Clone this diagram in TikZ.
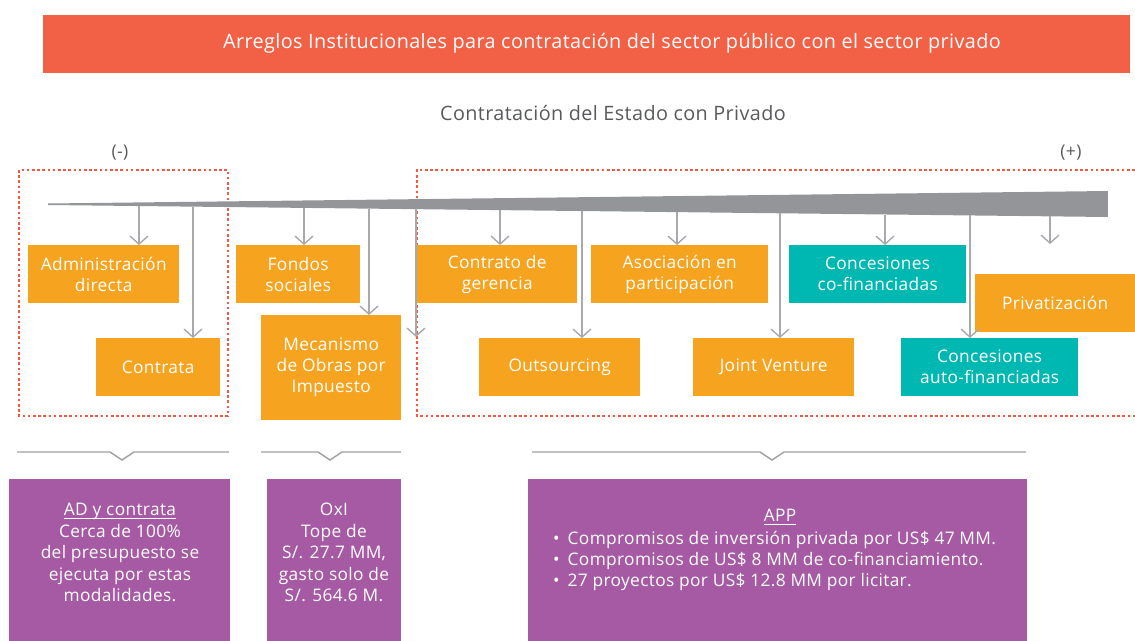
\documentclass[tikz,border=0pt]{standalone}
\usepackage{fontspec}
\setmainfont{Open Sans}[LetterSpace=2]
\usetikzlibrary{arrows.meta}
\definecolor{titlered}{HTML}{F26045}
\definecolor{dotred}{HTML}{F15A40}
\definecolor{boxorange}{HTML}{F6A31F}
\definecolor{boxteal}{HTML}{00B8B2}
\definecolor{boxpurple}{HTML}{A55AA3}
\definecolor{wedgegray}{HTML}{939598}
\definecolor{wedgelight}{HTML}{E2E3E4}
\definecolor{arrgray}{HTML}{A7A9AC}
\definecolor{txtgray}{HTML}{58595B}
\definecolor{brgray}{HTML}{9D9FA2}
\pgfdeclarehorizontalshading{wedgeshade}{100bp}{color(0bp)=(wedgelight); color(22bp)=(wedgegray); color(100bp)=(wedgegray)}
\newcommand\myul[1]{\setbox0\hbox{#1}\rlap{\rule[-3.5pt]{\wd0}{0.9pt}}\box0}
\begin{document}
\begin{tikzpicture}[x=1pt,y=-1pt,
  obox/.style={fill=boxorange, text=white, align=center, inner sep=0pt, anchor=north west,
    font=\fontsize{17.3}{21}\selectfont},
  tbox/.style={obox, fill=boxteal},
  pbox/.style={fill=boxpurple, inner sep=0pt, anchor=north west},
  ptext/.style={text=white, align=center, inner sep=0pt, font=\fontsize{17.3}{21.5}\selectfont},
  arr/.style={draw=arrgray, line width=1.4pt, -{Straight Barb[length=8pt,width=18pt,line width=1.4pt]}},
  dotbox/.style={draw=dotred, line width=2.8pt, dash pattern=on 2.6pt off 2.6pt},
  bracket/.style={draw=brgray, line width=1.4pt},
  gtext/.style={text=txtgray, inner sep=0pt}
]
\useasboundingbox (0,0) rectangle (1135,640);

% title
\node[fill=titlered, minimum width=1087pt, minimum height=58pt, inner sep=0pt,
  anchor=north west] (title) at (43,15) {};
\node[text=white, inner sep=0pt, font=\fontsize{19.8}{22}\selectfont] (titletext) at (612,43)
  {Arreglos Institucionales para contratación del sector público con el sector privado};

\node[gtext, font=\fontsize{19.8}{22}\selectfont] (sub) at (613,113) {Contratación del Estado con Privado};
\node[gtext, font=\fontsize{17.5}{20}\selectfont] (minus) at (120,153) {(-)};
\node[gtext, font=\fontsize{17.5}{20}\selectfont] (plus) at (1071,153) {(+)};

% dotted frames
\draw[dotbox] (19,170) rectangle (228,416);
\draw[dotbox] (1140,170) -- (417,170) -- (417,416) -- (1140,416);

% wedge
\shade[shading=wedgeshade] (48,203.5) -- (1108,191) -- (1108,217) -- (48,205) -- cycle;

% boxes
\node[obox, minimum width=151pt, minimum height=58pt] (adm) at (28,245) {Administración\\directa};
\node[obox, minimum width=124pt, minimum height=58pt] (con) at (96,338) {Contrata};
\node[obox, minimum width=124pt, minimum height=58pt] (fon) at (236,245) {Fondos\\sociales};
\node[obox, minimum width=140pt, minimum height=105pt] (oxi) at (261,315) {Mecanismo\\de Obras por\\Impuesto};
\node[obox, minimum width=160pt, minimum height=58pt] (ger) at (417,245) {Contrato de\\gerencia};
\node[obox, minimum width=177pt, minimum height=58pt] (aso) at (591,245) {Asociación en\\participación};
\node[tbox, minimum width=177pt, minimum height=58pt] (cof) at (789,245) {Concesiones\\co-financiadas};
\node[obox, minimum width=161pt, minimum height=58pt] (out) at (479,338) {Outsourcing};
\node[obox, minimum width=161pt, minimum height=58pt] (jv) at (693,338) {Joint Venture};
\node[obox, minimum width=160pt, minimum height=58pt] (pri) at (975,274) {Privatización};
\node[tbox, minimum width=177pt, minimum height=58pt] (auf) at (901,338) {Concesiones\\auto-financiadas};

% arrow origins on the wedge
\coordinate (a1) at (139,206);
\coordinate (a2) at (193,206.6);
\coordinate (a3) at (304,207.9);
\coordinate (a4) at (369,208.6);
\coordinate (a5) at (416,209.2);
\coordinate (a6) at (500,210.1);
\coordinate (a7) at (582,211);
\coordinate (a8) at (677,212.1);
\coordinate (a9) at (780,213.3);
\coordinate (a10) at (885,214.5);
\coordinate (a11) at (970,215.4);
\coordinate (a12) at (1050,216.3);
\coordinate (e5) at (416,337);
\coordinate (e12) at (1050,244);

\draw[arr] (a1) -- (a1 |- adm.north);
\draw[arr] (a2) -- (a2 |- con.north);
\draw[arr] (a3) -- (a3 |- fon.north);
\draw[arr] (a4) -- (a4 |- oxi.north);
\draw[arr] (a5) -- (e5);
\draw[arr] (a6) -- (a6 |- ger.north);
\draw[arr] (a7) -- (a7 |- out.north);
\draw[arr] (a8) -- (a8 |- aso.north);
\draw[arr] (a9) -- (a9 |- jv.north);
\draw[arr] (a10) -- (a10 |- cof.north);
\draw[arr] (a11) -- (a11 |- auf.north);
\draw[arr] (a12) -- (e12);

% brackets
\draw[bracket] (17,452) -- (110,452) -- (122,460) -- (134,452) -- (229,452);
\draw[bracket] (261,452) -- (318,452) -- (330,460) -- (342,452) -- (401,452);
\draw[bracket] (532,452) -- (760,452) -- (772,460) -- (784,452) -- (1026,452);

% purple boxes
\node[pbox, minimum width=221pt, minimum height=162pt] (p1) at (9,479) {};
\node[pbox, minimum width=134pt, minimum height=162pt] (p2) at (267,479) {};
\node[pbox, minimum width=499pt, minimum height=162pt] (p3) at (528,479) {};

\node[ptext, anchor=north] (t1) at (120,503)
  {\myul{AD y contrata}\\Cerca de 100\%\\del presupuesto se\\ejecuta por estas\\modalidades.};
\node[ptext, anchor=north] (t2) at (334,503)
  {OxI\\Tope de\\S/. 27.7 MM,\\gasto solo de\\S/. 564.6 M.};
\node[ptext, anchor=north] (t3h) at (780,509) {\myul{APP}};
\node[ptext, anchor=north west, align=left, font=\fontsize{17.3}{21}\selectfont] (t3) at (553,531)
  {\textbullet\hspace{8pt}Compromisos de inversión privada por US\$ 47 MM.\\
   \textbullet\hspace{8pt}Compromisos de US\$ 8 MM de co-financiamiento.\\
   \textbullet\hspace{8pt}27 proyectos por US\$ 12.8 MM por licitar.};
\end{tikzpicture}
\end{document}
